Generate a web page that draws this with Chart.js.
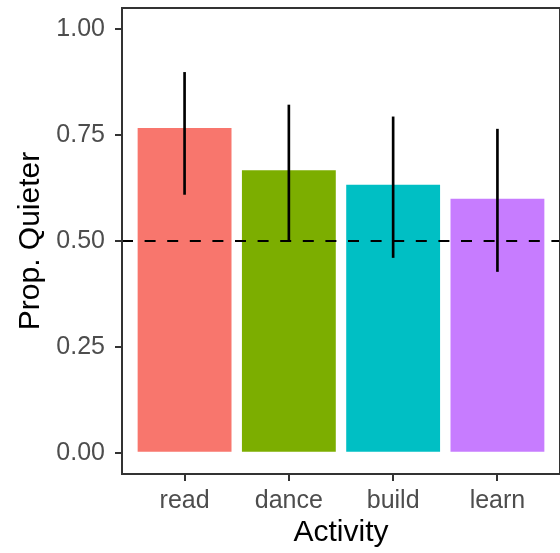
<!DOCTYPE html>
<html>
<head>
<meta charset="utf-8">
<title>Prop. Quieter by Activity</title>
<script src="https://cdn.jsdelivr.net/npm/chart.js@4.4.1/dist/chart.umd.min.js"></script>
<style>
  html, body { margin: 0; padding: 0; background: #ffffff; }
  canvas { display: block; }
</style>
</head>
<body>
<canvas id="chart" width="560" height="553"></canvas>
<script>
// Activities along the x axis
const categories = ['read', 'dance', 'build', 'learn'];
// Proportion rated quieter, with interval bounds
const propQuieter = [0.767, 0.667, 0.633, 0.600];
const ciLower = [0.610, 0.500, 0.461, 0.428];
const ciUpper = [0.898, 0.821, 0.793, 0.764];
// Reference level drawn as a dashed line
const refLevel = 0.5;
// Y axis tick labels
const yTicks = [0, 0.25, 0.5, 0.75, 1.0];
const barColors = ['#F8766D', '#7CAE00', '#00BFC4', '#C77CFF'];

const positions = categories.map((_, i) => i + 1);
const xMin = 0.4, xMax = categories.length + 0.6;
const yMin = -0.05, yMax = 1.05;

const FONT = "'Liberation Sans', Arial, Helvetica, sans-serif";

const panelBorder = {
  id: 'panelBorder',
  afterDraw(chart) {
    const { ctx, chartArea: a } = chart;
    ctx.save();
    ctx.strokeStyle = '#333333';
    ctx.lineWidth = 2;
    ctx.strokeRect(a.left, a.top, a.right - a.left, a.bottom - a.top);
    ctx.restore();
  }
};

new Chart(document.getElementById('chart'), {
  data: {
    datasets: [
      {
        type: 'line',
        order: 0,
        data: [{ x: xMin, y: refLevel }, { x: xMax, y: refLevel }],
        borderColor: '#000000',
        borderWidth: 2,
        borderDash: [11, 11.6],
        borderCapStyle: 'butt',
        pointRadius: 0,
        fill: false
      },
      {
        type: 'bar',
        order: 1,
        grouped: false,
        data: positions.map((x, i) => ({ x, y: [ciLower[i], ciUpper[i]] })),
        backgroundColor: '#000000',
        borderWidth: 0,
        barThickness: 2
      },
      {
        type: 'bar',
        order: 2,
        grouped: false,
        data: positions.map((x, i) => ({ x, y: propQuieter[i] })),
        backgroundColor: barColors,
        borderWidth: 0,
        barPercentage: 0.9,
        categoryPercentage: 1.0
      }
    ]
  },
  options: {
    responsive: false,
    animation: false,
    devicePixelRatio: 1,
    layout: { padding: { top: 8, right: -1, bottom: 0, left: 0 } },
    plugins: { legend: { display: false }, tooltip: { enabled: false } },
    scales: {
      x: {
        type: 'linear',
        offset: false,
        min: xMin,
        max: xMax,
        afterBuildTicks(scale) { scale.ticks = positions.map(v => ({ value: v })); },
        afterFit(scale) { scale.height = 79; scale.paddingLeft = 0; scale.paddingRight = 0; },
        ticks: {
          autoSkip: false,
          maxRotation: 0,
          padding: 5,
          color: '#4D4D4D',
          font: { family: FONT, size: 25 },
          callback: (v) => categories[Math.round(v) - 1] || ''
        },
        grid: { offset: false, drawOnChartArea: false, drawTicks: true, tickLength: 7, color: '#333333', lineWidth: 2 },
        border: { display: false },
        title: {
          display: true,
          text: 'Activity',
          color: '#000000',
          font: { family: FONT, size: 30 },
          padding: { top: 0, bottom: 2 }
        }
      },
      y: {
        type: 'linear',
        min: yMin,
        max: yMax,
        afterBuildTicks(scale) { scale.ticks = yTicks.map(v => ({ value: v })); },
        afterFit(scale) { scale.width = 122; scale.paddingTop = 0; scale.paddingBottom = 0; },
        ticks: {
          padding: 10,
          color: '#4D4D4D',
          font: { family: FONT, size: 25 },
          callback: (v) => Number(v).toFixed(2)
        },
        grid: { drawOnChartArea: false, drawTicks: true, tickLength: 7, color: '#333333', lineWidth: 2 },
        border: { display: false },
        title: {
          display: true,
          text: 'Prop. Quieter',
          color: '#000000',
          font: { family: FONT, size: 30 },
          padding: { top: 13, bottom: 0 }
        }
      }
    }
  },
  plugins: [panelBorder]
});
</script>
</body>
</html>
